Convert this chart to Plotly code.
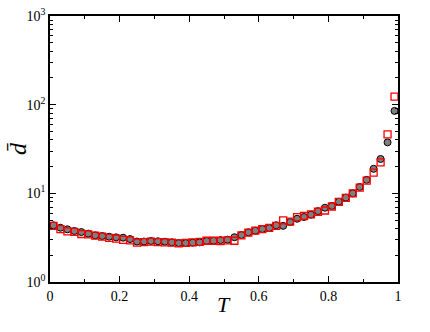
import plotly.graph_objects as go

# temperature grid
T = [0.01 + 0.02 * k for k in range(50)]

# mean distance, filled circles
d_circle = [4.36, 4.09, 3.93, 3.76, 3.66, 3.51, 3.36, 3.30, 3.24, 3.19,
            3.16, 3.05, 2.86, 2.86, 2.90, 2.88, 2.85, 2.80, 2.75, 2.75,
            2.78, 2.80, 2.90, 2.92, 2.97, 3.00, 3.20, 3.39, 3.63, 3.79,
            3.96, 4.06, 4.36, 4.30, 4.75, 5.17, 5.41, 5.75, 6.30, 6.88,
            7.20, 8.04, 8.95, 10.0, 11.8, 14.2, 18.9, 24.4, 37.6, 85.0]

# mean distance, open squares
d_square = [4.30, 3.95, 3.72, 3.68, 3.48, 3.45, 3.33, 3.25, 3.15, 3.08,
            2.98, 2.95, 2.78, 2.82, 2.86, 2.82, 2.80, 2.78, 2.73, 2.76,
            2.80, 2.84, 2.92, 2.92, 2.90, 2.95, 2.92, 3.35, 3.60, 3.80,
            3.95, 4.08, 4.30, 4.95, 4.80, 5.40, 5.55, 5.80, 6.20, 6.40,
            7.10, 8.00, 8.90, 10.0, 11.6, 13.9, 17.1, 22.4, 46.3, 123.0]

y_ticks = [1, 10, 100, 1000]
y_ticktext = ["10<sup>0</sup>", "10<sup>1</sup>", "10<sup>2</sup>", "10<sup>3</sup>"]
y_minor = [m * 10 ** e for e in range(3) for m in range(2, 10)]

font = "Liberation Serif, Times New Roman, serif"

fig = go.Figure()
fig.add_trace(go.Scatter(
    x=T, y=d_circle, mode="markers",
    marker=dict(symbol="circle", size=7, color="#7f7f7f",
                line=dict(color="black", width=1)),
))
fig.add_trace(go.Scatter(
    x=T, y=d_square, mode="markers",
    marker=dict(symbol="square-open", size=7, color="red",
                line=dict(color="red", width=1.3)),
))

fig.update_layout(
    width=430, height=332,
    margin=dict(l=50, r=32, t=16, b=50),
    paper_bgcolor="white", plot_bgcolor="white",
    showlegend=False,
    font=dict(family=font, size=14, color="black"),
    xaxis=dict(
        range=[0, 1], dtick=0.2, tick0=0, automargin=False,
        showgrid=False, zeroline=False,
        showline=True, linecolor="black", linewidth=1.5, mirror="allticks",
        ticks="inside", ticklen=6, tickwidth=1, tickcolor="black",
        minor=dict(ticks="inside", ticklen=3, dtick=0.1, tickcolor="black", showgrid=False),
    ),
    yaxis=dict(
        type="log", range=[0, 3], automargin=False,
        tickmode="array", tickvals=y_ticks, ticktext=y_ticktext,
        showgrid=False, zeroline=False,
        showline=True, linecolor="black", linewidth=1.5, mirror="allticks",
        ticks="inside", ticklen=6, tickwidth=1, tickcolor="black",
        minor=dict(ticks="inside", ticklen=3, tickmode="array", tickvals=y_minor,
                   tickcolor="black", showgrid=False),
    ),
    annotations=[
        dict(text="<i>T</i>", xref="paper", yref="paper", x=0.5, y=0,
             yshift=-8, xanchor="center", yanchor="top", showarrow=False,
             font=dict(size=22)),
        dict(text="<i>d\u0304</i>", xref="paper", yref="paper", x=0, y=0.5,
             xshift=-17, xanchor="right", yanchor="middle", showarrow=False,
             textangle=-90, font=dict(size=24)),
    ],
)

fig.write_html("out.html", config={"displayModeBar": False},
               post_script="document.body.style.margin='0';")
